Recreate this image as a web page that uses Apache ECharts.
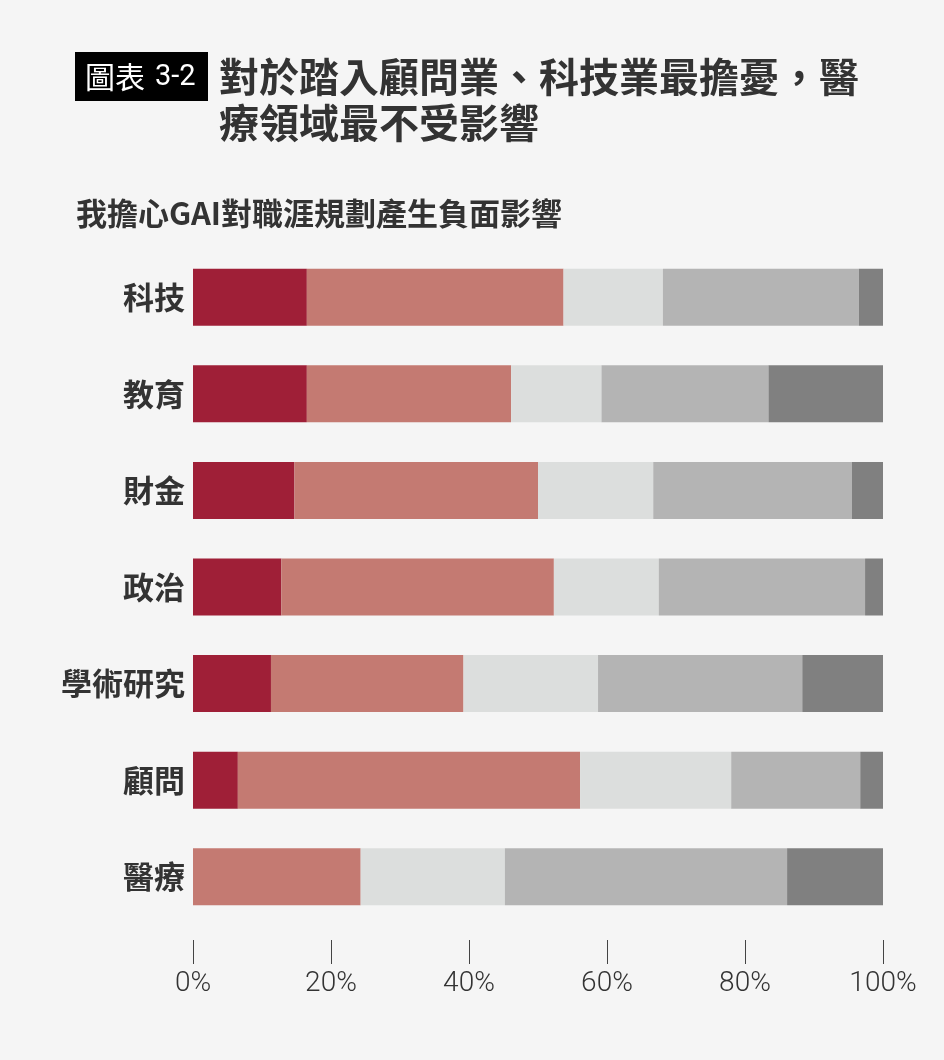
<!DOCTYPE html>
<html>
<head>
<meta charset="utf-8">
<script src="https://cdn.jsdelivr.net/npm/echarts@6/dist/echarts.min.js"></script>
<style>
  html, body { margin: 0; padding: 0; background: #F5F5F5; }
  #main { width: 944px; height: 1060px; }
</style>
</head>
<body>
<div id="main"></div>
<script>
// 類別（由上而下）
var categories = ['科技', '教育', '財金', '政治', '學術研究', '顧問', '醫療'];
var seriesNames = ['非常同意', '同意', '普通', '不同意', '非常不同意'];
// 各組百分比，依 categories 順序
var strongAgree    = [16.5, 16.5, 14.7, 12.8, 11.3, 6.5, 0];
var agree          = [37.2, 29.6, 35.3, 39.5, 27.9, 49.6, 24.3];
var neutral        = [14.4, 13.1, 16.7, 15.2, 19.5, 21.9, 20.9];
var disagree       = [28.4, 24.2, 28.8, 29.9, 29.6, 18.7, 40.9];
var strongDisagree = [3.5, 16.6, 4.5, 2.6, 11.7, 3.3, 13.9];
var tickValues = [0, 20, 40, 60, 80, 100];

var colors = ['#9F1F37', '#C47A72', '#DCDEDD', '#B4B4B4', '#808080'];
var values = [strongAgree, agree, neutral, disagree, strongDisagree];

var chart = echarts.init(document.getElementById('main'));
var cjk = '"Noto Sans CJK TC", "Noto Sans CJK SC", sans-serif';

var option = {
  backgroundColor: '#F5F5F5',
  animation: false,
  graphic: [
    { type: 'rect', shape: { x: 75, y: 52, width: 133, height: 49 }, style: { fill: '#000' } },
    { type: 'text', x: 85, y: 77, style: { text: '圖表', fill: '#fff', font: 'normal 30px ' + cjk, verticalAlign: 'middle' } },
    { type: 'text', x: 155, y: 78, style: { text: '3-2', fill: '#fff', font: 'normal 29px Roboto, sans-serif', verticalAlign: 'middle' } },
    { type: 'text', x: 219, y: 77, style: { text: '對於踏入顧問業、科技業最擔憂，醫', fill: '#333', font: 'bold 40px ' + cjk, verticalAlign: 'middle' } },
    { type: 'text', x: 219, y: 123, style: { text: '療領域最不受影響', fill: '#333', font: 'bold 40px ' + cjk, verticalAlign: 'middle' } },
    { type: 'text', x: 76, y: 213, style: { text: '我擔心GAI對職涯規劃產生負面影響', fill: '#333', font: 'bold 31px ' + cjk, verticalAlign: 'middle' } }
  ],
  grid: { left: 193, right: 61, top: 249, height: 676, containLabel: false },
  xAxis: {
    type: 'value',
    min: 0,
    max: 100,
    interval: 20,
    offset: 15,
    axisLine: { show: false },
    axisTick: { show: true, length: 24, lineStyle: { color: '#444', width: 1 } },
    splitLine: { show: false },
    axisLabel: {
      margin: 30,
      fontSize: 28,
      fontFamily: 'Roboto, sans-serif',
      fontWeight: 300,
      color: '#333',
      formatter: function (v) { return tickValues.indexOf(v) >= 0 ? v + '%' : ''; }
    }
  },
  yAxis: {
    type: 'category',
    inverse: true,
    data: categories,
    axisLine: { show: false },
    axisTick: { show: false },
    axisLabel: { margin: 8, fontSize: 31, fontWeight: 'bold', fontFamily: cjk, color: '#333' }
  },
  series: seriesNames.map(function (name, i) {
    return {
      name: name,
      type: 'bar',
      stack: 'total',
      barWidth: 57,
      itemStyle: { color: colors[i] },
      data: values[i]
    };
  })
};

chart.setOption(option);
</script>
</body>
</html>
